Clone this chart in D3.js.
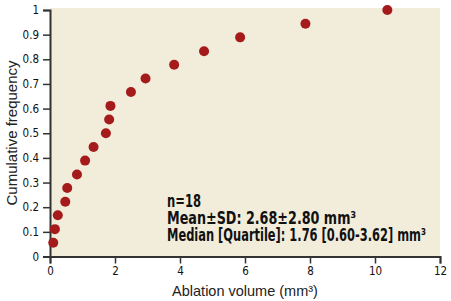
<!DOCTYPE html>
<html>
<head>
<meta charset="utf-8">
<script src="https://cdn.jsdelivr.net/npm/d3@7"></script>
<style>
  body { margin: 0; background: #fff; }
  svg { display: block; }
</style>
</head>
<body>
<svg id="chart"></svg>
<script>
// ablation volume (mm3) of each lesion, sorted
var volumes = [0.10, 0.15, 0.24, 0.47, 0.53, 0.83, 1.08, 1.34, 1.72,
               1.82, 1.86, 2.49, 2.94, 3.82, 4.74, 5.85, 7.86, 10.38];
// cumulative frequency
var cumFreq = [0.056, 0.111, 0.167, 0.222, 0.278, 0.333, 0.389, 0.444, 0.5,
               0.556, 0.611, 0.667, 0.722, 0.778, 0.833, 0.889, 0.944, 1];
var xTicks = [0, 2, 4, 6, 8, 10, 12];
var yTicks = [0, 0.1, 0.2, 0.3, 0.4, 0.5, 0.6, 0.7, 0.8, 0.9, 1];
var statLines = [
    'n=18',
    'Mean\u00b1SD: 2.68\u00b12.80 mm\u00b3',
    'Median [Quartile]: 1.76 [0.60-3.62] mm\u00b3'
];

var width = 451,
    height = 301,
    margin = {top: 10, right: 11, bottom: 44.5, left: 50};

var svg = d3.select('#chart')
    .attr('width', width)
    .attr('height', height);

var x = d3.scaleLinear()
    .domain([0, 12])
    .range([margin.left, width - margin.right]);
var y = d3.scaleLinear()
    .domain([0, 1])
    .range([height - margin.bottom, margin.top]);

// plot background
svg.append('rect')
    .attr('x', x(0))
    .attr('y', y(1) - 2)
    .attr('width', x(12) - x(0))
    .attr('height', y(0) - y(1) + 2)
    .attr('fill', '#f2eddb');

var tickFont = '"Liberation Sans Narrow", "DejaVu Sans Condensed", sans-serif';

var yAxis = svg.append('g')
    .attr('transform', 'translate(' + x(0) + ',0)')
    .call(d3.axisLeft(y)
        .tickValues(yTicks)
        .tickSize(7)
        .tickPadding(4)
        .tickFormat(function(d) { return String(+d.toFixed(1)); }));

var xAxis = svg.append('g')
    .attr('transform', 'translate(0,' + y(0) + ')')
    .call(d3.axisBottom(x)
        .tickValues(xTicks)
        .tickSize(7)
        .tickPadding(3)
        .tickFormat(d3.format('d')));

[xAxis, yAxis].forEach(function(g) {
    g.select('.domain')
        .attr('stroke', '#333')
        .attr('stroke-width', 2);
    g.selectAll('.tick line')
        .attr('stroke', '#333')
        .attr('stroke-width', 1.5);
    g.selectAll('.tick text')
        .attr('fill', '#111')
        .style('font-family', tickFont)
        .style('font-size', '11.5px');
});

// points
svg.append('g')
    .selectAll('circle')
    .data(volumes)
    .join('circle')
    .attr('cx', function(d) { return x(d); })
    .attr('cy', function(d, i) { return y(cumFreq[i]); })
    .attr('r', 5)
    .attr('fill', '#a51b1b');

// summary text
var statWidths = [34, 189, 259];
svg.append('g')
    .selectAll('text')
    .data(statLines)
    .join('text')
    .attr('x', 167)
    .attr('y', function(d, i) { return 207 + i * 17; })
    .attr('textLength', function(d, i) { return statWidths[i]; })
    .attr('lengthAdjust', 'spacingAndGlyphs')
    .style('font-family', tickFont)
    .style('font-weight', 'bold')
    .style('font-size', '17px')
    .attr('fill', '#111')
    .text(function(d) { return d; });

// axis titles
svg.append('text')
    .attr('x', (x(0) + x(12)) / 2)
    .attr('y', 296)
    .attr('text-anchor', 'middle')
    .style('font-family', '"Liberation Sans", Arial, sans-serif')
    .style('font-size', '14.5px')
    .attr('fill', '#222')
    .text('Ablation volume (mm\u00b3)');

svg.append('text')
    .attr('transform', 'translate(17,' + 133 + ') rotate(-90)')
    .attr('text-anchor', 'middle')
    .style('font-family', '"Liberation Sans", Arial, sans-serif')
    .style('font-size', '15px')
    .attr('fill', '#222')
    .text('Cumulative frequency');
</script>
</body>
</html>
